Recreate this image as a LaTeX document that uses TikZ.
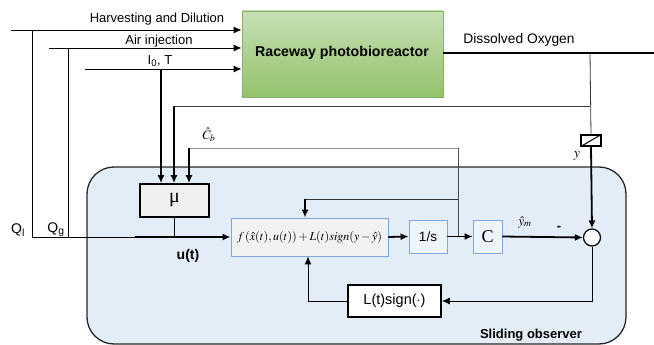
\documentclass[tikz,border=0pt]{standalone}
\usepackage{mathptmx}
\usepackage{fontspec}
\setmainfont{Liberation Sans}
\newfontfamily\seriffont{Liberation Serif}
\usetikzlibrary{arrows.meta}
\definecolor{obsfill}{HTML}{E3EDF8}
\definecolor{boxblue}{HTML}{7EA6E0}
\definecolor{greentop}{HTML}{C6E0B4}
\definecolor{greenbot}{HTML}{93C26B}
\definecolor{greenedge}{HTML}{82B366}
\tikzset{
  lbl/.style={font=\fontsize{13}{15}\selectfont, inner sep=0pt},
  thin line/.style={line width=0.9pt},
  thick line/.style={line width=1.8pt},
  arr/.style={-{Latex[length=8pt,width=7pt]}},
  bluebox/.style={draw=boxblue, line width=0.9pt, fill=#1, inner sep=0pt},
  blackbox/.style={draw=black, line width=1.6pt, fill=#1, inner sep=0pt},
}
\begin{document}
\begin{tikzpicture}[x=1pt,y=-1pt]
\useasboundingbox (0,0) rectangle (654,345);
% observer background
\draw[fill=obsfill, draw=black!85, line width=1.3pt, rounded corners=27pt] (87,167) rectangle (626,344);
\node[font=\bfseries\fontsize{13}{15}\selectfont, inner sep=0pt] (obslbl) at (531,335) {Sliding observer};

% reactor
\node[draw=greenedge, line width=0.9pt, top color=greentop, bottom color=greenbot, minimum width=201pt, minimum height=86pt, inner sep=0pt] (reactor) at (342.5,54) {};
\node[font=\bfseries\fontsize{14.2}{16}\selectfont, inner sep=0pt] (reactorlbl) at (342,53) {Raceway photobioreactor};

% blocks
\node[blackbox=black!6, minimum width=69pt, minimum height=33pt] (mu) at (174.5,200.5) {\seriffont\fontsize{20}{22}\selectfont μ};
\node[bluebox=black!5, minimum width=157pt, minimum height=38pt] (fbox) at (309.5,237) {\fontsize{12}{14}\selectfont $f\,(\hat{x}(t),u(t))+L(t)\mathit{sign}(y-\hat{y})$};
\node[bluebox=obsfill!60!white, minimum width=38pt, minimum height=33pt] (intbox) at (428,236.5) {\fontsize{13.5}{15}\selectfont 1/s};
\node[bluebox=obsfill!60!white, minimum width=29pt, minimum height=33pt] (cbox) at (487.5,236.5) {\seriffont\fontsize{18}{20}\selectfont C};
\node[draw=black, line width=1.2pt, fill=white, circle, minimum size=17pt, inner sep=0pt] (sum) at (592,237.5) {};
\node[blackbox=white, minimum width=93pt, minimum height=32pt] (lbox) at (394.5,301) {\fontsize{14.5}{16}\selectfont L(t)sign($\cdot$)};
\node[draw=black, line width=1.5pt, fill=white, minimum width=20pt, minimum height=11pt, inner sep=0pt] (sensor) at (591,140.5) {};
\draw[line width=1pt] (sensor.south west) -- (sensor.north east);

% coordinates
\coordinate (h0) at (11,30);
\coordinate (a0) at (49,48);
\coordinate (i0) at (85,69);
\coordinate (qi) at (32,30);
\coordinate (qib) at (32,237);
\coordinate (qg) at (68,48);
\coordinate (qgb) at (68,237);
\coordinate (uthick) at (135,237);
\coordinate (it) at (161,69);
\coordinate (doend) at (654,53);
\coordinate (dotap) at (590,53);
\coordinate (ytap) at (590,106);
\coordinate (mu2) at (174,106);
\coordinate (cbr) at (458,148);
\coordinate (cbl) at (189,148);
\coordinate (cbd) at (458,237);
\coordinate (fbr) at (458,199);
\coordinate (fbl) at (305,199);
\coordinate (mub) at (174,237);
\coordinate (lcorner) at (308,301);

% inputs into reactor
\draw[thin line, arr] (h0) -- (h0 -| reactor.west);
\draw[thin line, arr] (a0) -- (a0 -| reactor.west);
\draw[thin line, arr] (i0) -- (i0 -| reactor.west);
\node[lbl] (hlbl) at (157,19) {Harvesting and Dilution};
\node[lbl] (albl) at (159,41) {Air injection};
\node[lbl] (ilbl) at (160,61) {I\textsubscript{0}, T};

% Qi, Qg lines
\draw[line width=0.8pt] (qi) -- (qib) -- (uthick);
\draw[line width=0.8pt] (qg) -- (qgb);
\draw[thick line, arr] (uthick) -- (fbox.west);
\node[lbl, font=\fontsize{14}{16}\selectfont] (qilbl) at (18,230) {Q\textsubscript{l}};
\node[lbl, font=\fontsize{14}{16}\selectfont] (qglbl) at (56,230) {Q\textsubscript{g}};
\node[font=\bfseries\fontsize{14}{16}\selectfont, inner sep=0pt] (ulbl) at (188,256) {u(t)};

% I0,T to mu
\draw[thick line, arr] (it) -- (it |- mu.north);
% mu output
\draw[line width=0.8pt] (mu.south -| mub) -- (mub);

% dissolved oxygen
\draw[thick line] (reactor.east |- dotap) -- (doend);
\node[lbl, font=\fontsize{13.8}{16}\selectfont] (dolbl) at (519,40) {Dissolved Oxygen};
\draw[line width=0.8pt, black!80] (dotap) -- (sensor.north);
\draw[line width=0.8pt, black!75] (ytap) -- (mu2);
\draw[thick line, arr] (mu2) -- (mu2 |- mu.north);
\draw[thick line, arr] (sensor.south) -- (sum.north);
\node[inner sep=0pt, font=\fontsize{14}{16}\selectfont] (ylbl) at (577,156) {$y$};

% C hat b
\draw[line width=1pt, black!45] (cbr) -- (cbl);
\draw[thick line, arr] (cbl) -- (cbl |- mu.north);
\draw[line width=0.8pt, black!70] (cbr) -- (cbd);
\draw[line width=0.8pt, black!80] (fbr) -- (fbl);
\draw[thick line, arr] (fbl) -- (fbl |- fbox.north);
\node[inner sep=0pt, font=\fontsize{13}{15}\selectfont] (cblbl) at (209,135) {$\hat{C}_b$};

% forward path
\draw[thick line, arr] (fbox.east) -- (intbox.west);
\draw[thick line, arr] (intbox.east) -- (cbox.west);
\draw[thick line, arr] (cbox.east) -- (sum.west);
\node[inner sep=0pt, font=\fontsize{13}{15}\selectfont] (ymlbl) at (525,222) {$\hat{y}_m$};
\node[inner sep=0pt, font=\bfseries\fontsize{13}{15}\selectfont] (minus) at (559,228) {-};

% feedback
\draw[line width=1pt, arr] (sum.south) |- (lbox.east);
\draw[line width=1pt, arr] (lbox.west) -- (lcorner) -- (lcorner |- fbox.south);
\end{tikzpicture}
\end{document}
